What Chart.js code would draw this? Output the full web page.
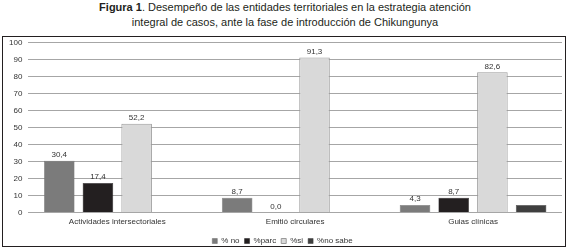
<!DOCTYPE html>
<html lang="es">
<head>
    <meta charset="UTF-8">
    <title>Figura 1 - Chikungunya</title>
    <script src="https://cdn.jsdelivr.net/npm/chart.js"></script>
    <style>
        body {
            margin: 0;
            background: #fff;
            font-family: "Liberation Sans", Arial, sans-serif;
        }
        .title {
            position: absolute;
            left: 0;
            top: 0;
            width: 570px;
            text-align: center;
            font-size: 11px;
            line-height: 15px;
            color: #231f20;
        }
        .chart-box {
            position: absolute;
            left: 2px;
            top: 36px;
            width: 562px;
            height: 209px;
            border: 1px solid #231f20;
            overflow: hidden;
        }
        .chart-box canvas {
            position: absolute;
            left: 0;
            top: -5px;
        }
    </style>
</head>
<body>
    <div class="title"><b>Figura 1</b>. Desempeño de las entidades territoriales en la estrategia atención<br>integral de casos, ante la fase de introducción de Chikungunya</div>
    <div class="chart-box">
        <canvas id="chart" width="562" height="223"></canvas>
    </div>

    <script>
        const categories = ['Actividades intersectoriales', 'Emitió circulares', 'Guias clínicas'];
        const pctNo = [30.4, 8.7, 4.3];
        const pctParc = [17.4, 0.0, 8.7];
        const pctSi = [52.2, 91.3, 82.6];
        const pctNoSabe = [0, 0, 4.3];
        const yTicks = [0, 10, 20, 30, 40, 50, 60, 70, 80, 90, 100];

        // labels above bars (only first three series carry values in the figure)
        const valueLabels = {
            id: 'valueLabels',
            afterDatasetsDraw(chart) {
                const ctx = chart.ctx;
                ctx.save();
                ctx.font = '8px "Liberation Sans", Arial, sans-serif';
                ctx.fillStyle = '#333';
                ctx.textAlign = 'center';
                ctx.textBaseline = 'bottom';
                chart.data.datasets.forEach((ds, i) => {
                    if (i > 2) return;
                    chart.getDatasetMeta(i).data.forEach((bar, j) => {
                        const v = ds.data[j];
                        if (v === null) return;
                        ctx.fillText(v.toFixed(1).replace('.', ','), bar.x, bar.y - 2);
                    });
                });
                ctx.restore();
            }
        };

        new Chart(document.getElementById('chart'), {
            type: 'bar',
            data: {
                labels: categories,
                datasets: [
                    { label: '% no', data: pctNo, backgroundColor: '#7b7b7b', borderColor: '#6a6a6a', borderWidth: 0.5 },
                    { label: '%parc', data: pctParc, backgroundColor: '#231f20', borderColor: '#231f20', borderWidth: 0.5 },
                    { label: '%si', data: pctSi, backgroundColor: '#d9d9d9', borderColor: '#9a9a9a', borderWidth: 1 },
                    { label: '%no sabe', data: pctNoSabe, backgroundColor: '#3f3f3f', borderColor: '#3f3f3f', borderWidth: 0.5 }
                ]
            },
            options: {
                responsive: false,
                animation: false,
                categoryPercentage: 0.87,
                barPercentage: 0.79,
                layout: { padding: { left: 0, right: 3, top: 0, bottom: 0 } },
                plugins: {
                    legend: {
                        position: 'bottom',
                        labels: {
                            boxWidth: 5,
                            boxHeight: 5,
                            padding: 5,
                            color: '#333',
                            font: { size: 8, family: '"Liberation Sans", Arial, sans-serif' }
                        }
                    },
                    tooltip: { enabled: false }
                },
                scales: {
                    x: {
                        grid: { display: false, drawTicks: false },
                        border: { display: false },
                        ticks: {
                            color: '#333',
                            padding: 5,
                            font: { size: 8, family: '"Liberation Sans", Arial, sans-serif' }
                        }
                    },
                    y: {
                        min: 0,
                        max: 100,
                        afterBuildTicks: axis => { axis.ticks = yTicks.map(v => ({ value: v })); },
                        grid: { color: '#a6a6a6', drawTicks: false },
                        border: { display: false },
                        ticks: {
                            color: '#333',
                            padding: 6,
                            font: { size: 8, family: '"Liberation Sans", Arial, sans-serif' }
                        }
                    }
                }
            },
            plugins: [valueLabels]
        });
    </script>
</body>
</html>
